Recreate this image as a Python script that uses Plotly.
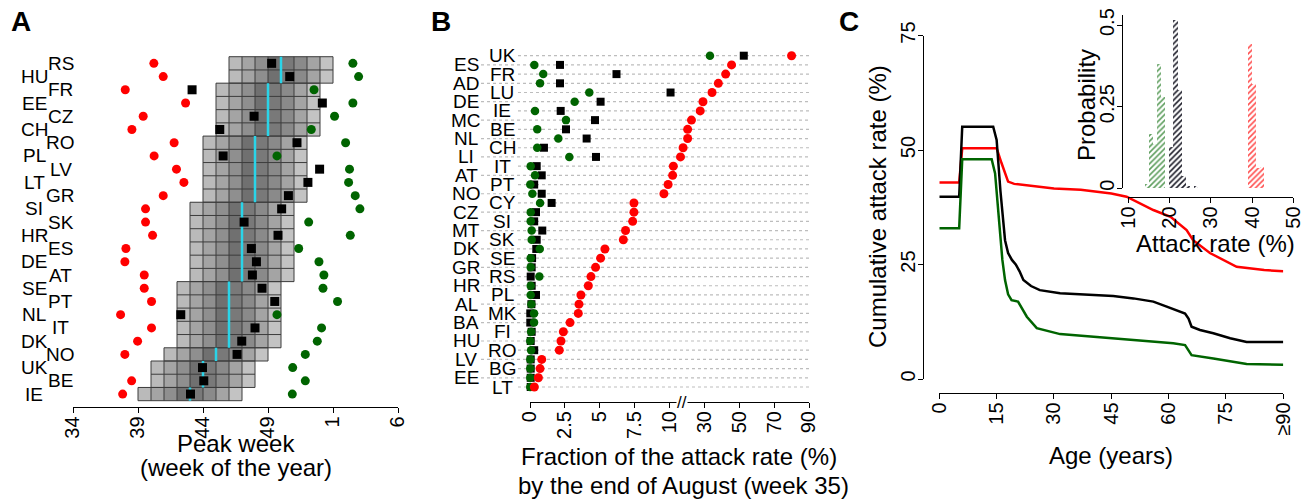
import plotly.graph_objects as go

PAGE_W, PAGE_H = 1313, 501
OFF = 8                      # default page body margin in the browser
W, H = PAGE_W - OFF, PAGE_H - OFF
FONT = "Liberation Sans, Arial, sans-serif"

def fx(p):
    return (p - OFF) / W

def fy(p):
    return 1 - (p - OFF) / H

# ---------------- Panel A data ----------------
countries_A = ["RS", "HU", "FR", "EE", "CZ", "CH", "RO", "PL", "LV", "LT", "GR", "SI", "SK",
               "HR", "ES", "DE", "AT", "SE", "PT", "NL", "IT", "DK", "NO", "UK", "BE", "IE"]
median_week_A = [50, 50, 49, 49, 49, 49, 48, 48, 48, 48, 48, 47, 47, 47, 47, 47, 47,
                 46, 46, 46, 46, 46, 45, 44, 44, 43]
red_A = [40.22, 40.94, 38.02, 42.66, 39.40, 38.53, 41.78, 40.24, 41.96, 42.53, 40.94, 39.58, 39.58,
         40.12, 38.07, 37.99, 39.48, 39.48, 40.04, 37.66, 40.04, 38.97, 37.99, None, 38.51, 37.82]
black_A = [49.28, 50.67, 43.16, 53.18, 47.93, 45.29, 51.23, 45.55, 52.97, 52.07, 50.57, 50.05, 47.16,
           49.77, 47.72, 48.11, 47.80, 48.54, 49.52, 42.29, 48.00, 46.98, 46.62, 43.96, 44.06, 43.04]
green_A = [55.53, 55.97, 52.54, 55.53, 54.12, 52.33, 54.97, 49.69, 55.27, 55.20, 55.71, 56.07, 52.13,
           55.33, 51.36, 52.92, 53.30, 53.23, 54.35, 49.69, 53.12, 52.79, 51.87, 50.90, 51.87, 50.87]
peak_prob = [0.05, 0.10, 0.15, 0.22, 0.20, 0.16, 0.10, 0.03]   # per week offset within 8-week window
week_ticks = [34, 39, 44, 49, 54, 59]
week_tick_labels = ["34", "39", "44", "49", "1", "6"]

# ---------------- Panel B data ----------------
countries_B = ["UK", "ES", "FR", "AD", "LU", "DE", "IE", "MC", "BE", "NL", "CH", "LI", "IT", "AT",
               "PT", "NO", "CY", "CZ", "SI", "MT", "SK", "DK", "SE", "GR", "RS", "HR", "PL", "AL",
               "MK", "BA", "FI", "HU", "RO", "LV", "BG", "EE", "LT"]
green_B = [33.2, 0.31, 0.95, 0.72, 4.25, 3.2, 0.36, 2.58, 0.52, 2.03, 0.52, 2.82, 0.05, 0.36,
           0.02, 0.17, 0.72, 0.05, 0.05, 0.12, 0.12, 0.70, 0.05, 0.05, 0.67, 0.05, 0.05, 0.10,
           0.29, 0.29, 0.08, 0.02, 0.08, 0.02, 0.02, 0.02, 0.02]
black_B = [52.6, 2.15, 6.2, 2.15, 10.6, 5.06, 2.2, 4.66, 2.58, 4.06, 1.0, 4.73, 0.48, 0.84,
           0.30, 0.84, 1.55, 0.43, 0.30, 0.88, 0.48, 0.45, 0.15, 0.12, 0.05, 0.12, 0.43, 0.10,
           0.02, 0.02, 0.12, 0.05, 0.30, 0.05, 0.05, 0.05, 0.05]
red_B = [80, 45.6, 42.2, 38, 34.4, 29.2, 27.6, 22.6, 20.4, 20.4, 17.8, 16.3, 12.2, 11.8,
         9.9, 9.6, 7.45, 7.45, 7.36, 6.85, 6.69, 5.37, 5.06, 4.70, 4.37, 4.18, 3.65, 3.51,
         3.46, 2.87, 2.39, 2.22, 2.10, 0.84, 0.72, 0.60, 0.31]
frac_ticks = [0, 2.5, 5, 7.5, 10, 30, 50, 70, 90]
frac_tick_labels = ["0", "2.5", "5", "7.5", "10", "30", "50", "70", "90"]

# ---------------- Panel C data ----------------
age_black = [0, 5.2, 6, 14.1, 15, 16, 17.2, 18, 19, 20, 21, 22, 24, 26.3, 31.6, 45.5, 50.8, 56,
             59.5, 63, 64.3, 65.2, 66, 68.2, 71.7, 76.1, 80.4, 90]
ar_black = [39.8, 39.8, 55.1, 55.1, 52.2, 41, 30.3, 27.5, 26, 25, 23.5, 21.6, 20.3, 19.4, 18.7,
            18.1, 17.6, 16.9, 15.8, 14.7, 14.3, 13.2, 11.4, 10.7, 10.0, 8.9, 8.1, 8.1]
age_red = [0, 5.2, 6, 15, 16.3, 18, 19.6, 25, 30, 37, 45, 49, 56, 60.5, 64.7, 66.4, 70.8, 77.8, 85, 90]
ar_red = [42.9, 42.9, 50.4, 50.4, 47.1, 43.1, 42.6, 42.0, 41.6, 41.3, 40.5, 39.8, 36.9, 35.4,
          32.5, 30.3, 27.5, 24.5, 23.8, 23.5]
age_green = [0, 5.2, 6, 13.7, 14.6, 15.5, 16.5, 17.2, 18, 18.9, 20.6, 22.9, 25.5, 31.6, 45.5,
             61.2, 64.3, 66, 71.7, 80.4, 90]
ar_green = [32.9, 32.9, 48, 48, 44.9, 35, 26, 21.6, 18.5, 17.2, 16.9, 13.6, 11.1, 9.8, 8.9,
            7.8, 7.4, 5.2, 4.5, 3.3, 3.1]
age_ticks = [0, 15, 30, 45, 60, 75, 90]
age_tick_labels = ["0", "15", "30", "45", "60", "75", "\u226590"]
car_ticks = [0, 25, 50, 75]

# inset histograms (bin left edge, probability)
bins_green = [14, 15, 16, 17, 18]
prob_green = [0.013, 0.166, 0.136, 0.381, 0.279]
bins_black = [20, 21, 22, 23, 24, 26]
prob_black = [0.126, 0.515, 0.30, 0.036, 0.006, 0.005]
bins_red = [39, 40, 41, 42]
prob_red = [0.44, 0.32, 0.06, 0.065]
inset_x_ticks = [10, 20, 30, 40, 50]
inset_y_ticks = [0, 0.25, 0.5]
inset_y_labels = ["0", "0.25", "0.5"]

RED = "#ff0000"
GREEN = "#006400"
CYAN = "#2ad4e8"

fig = go.Figure()

# ================= Panel A =================
rows_A = list(range(len(countries_A)))
weeks = list(range(39, 54))
z = []
for r in rows_A:
    start = median_week_A[r] - 4
    rowz = []
    for w in weeks:
        k = w - start
        rowz.append(peak_prob[k] if 0 <= k < len(peak_prob) else None)
    z.append(rowz)
fig.add_trace(go.Heatmap(x=[w + 0.5 for w in weeks], y=rows_A, z=z,
                         colorscale=[[0, "#d0d0d0"], [1, "#707070"]], zmin=0, zmax=max(peak_prob),
                         showscale=False, hoverinfo="skip", xaxis="x", yaxis="y"))

blocks = []
r0 = 0
for r in range(1, len(rows_A) + 1):
    if r == len(rows_A) or median_week_A[r] != median_week_A[r0]:
        blocks.append((r0, r - 1, median_week_A[r0]))
        r0 = r
gx, gy, cx, cy = [], [], [], []
for (a, b, m) in blocks:
    s, e = m - 4, m + 4
    for r in range(a, b + 2):
        gx += [s, e, None]
        gy += [r - 0.5, r - 0.5, None]
    for w in range(s, e + 1):
        gx += [w, w, None]
        gy += [a - 0.5, b + 0.5, None]
    cx += [m, m, None]
    cy += [a - 0.5, b + 0.5, None]
fig.add_trace(go.Scatter(x=gx, y=gy, mode="lines", line=dict(color="#3c3c3c", width=1),
                         hoverinfo="skip", xaxis="x", yaxis="y"))
fig.add_trace(go.Scatter(x=cx, y=cy, mode="lines", line=dict(color=CYAN, width=2.5),
                         hoverinfo="skip", xaxis="x", yaxis="y"))
fig.add_trace(go.Scatter(x=red_A, y=rows_A, mode="markers", marker=dict(color=RED, size=9, symbol="circle"),
                         cliponaxis=False, xaxis="x", yaxis="y"))
fig.add_trace(go.Scatter(x=green_A, y=rows_A, mode="markers", marker=dict(color=GREEN, size=9, symbol="circle"),
                         cliponaxis=False, xaxis="x", yaxis="y"))
fig.add_trace(go.Scatter(x=black_A, y=rows_A, mode="markers", marker=dict(color="black", size=9, symbol="square"),
                         cliponaxis=False, xaxis="x", yaxis="y"))

# ================= Panel B =================
def brk(v):
    return v / 2.5 if v <= 10 else 4 + (v - 10) / 20.0

rows_B = list(range(len(countries_B)))
fig.add_trace(go.Scatter(x=[brk(v) for v in black_B], y=rows_B, mode="markers",
                         marker=dict(color="black", size=8, symbol="square"),
                         cliponaxis=False, xaxis="x2", yaxis="y2"))
fig.add_trace(go.Scatter(x=[brk(v) for v in green_B], y=rows_B, mode="markers",
                         marker=dict(color=GREEN, size=8.5, symbol="circle"),
                         cliponaxis=False, xaxis="x2", yaxis="y2"))
fig.add_trace(go.Scatter(x=[brk(v) for v in red_B], y=rows_B, mode="markers",
                         marker=dict(color=RED, size=9, symbol="circle"),
                         cliponaxis=False, xaxis="x2", yaxis="y2"))

# ================= Panel C =================
fig.add_trace(go.Scatter(x=age_red, y=ar_red, mode="lines", line=dict(color=RED, width=2.5),
                         xaxis="x3", yaxis="y3"))
fig.add_trace(go.Scatter(x=age_black, y=ar_black, mode="lines", line=dict(color="black", width=2.5),
                         xaxis="x3", yaxis="y3"))
fig.add_trace(go.Scatter(x=age_green, y=ar_green, mode="lines", line=dict(color=GREEN, width=2.5),
                         xaxis="x3", yaxis="y3"))

for bins, probs, col, fg in [(bins_green, prob_green, "#a9d3a0", "#5e9e5e"),
                             (bins_black, prob_black, "#55556a", "#1c1c28"),
                             (bins_red, prob_red, "#ff9a9a", "#ff5050")]:
    fig.add_trace(go.Bar(x=[b + 0.5 for b in bins], y=probs, width=1.0,
                         marker=dict(color=col, line=dict(width=0),
                                     pattern=dict(shape="/", fgcolor=fg, size=4, solidity=0.4)),
                         xaxis="x4", yaxis="y4"))

# ================= Layout =================
tickfont = dict(family=FONT, size=20, color="black")
common_x = dict(showgrid=False, zeroline=False, showline=True, linecolor="black", linewidth=1.2,
                ticks="outside", ticklen=5, tickwidth=1.2, tickcolor="black", tickangle=-90,
                tickfont=tickfont, automargin=False, ticklabelstandoff=-5)

yA_top, yA_bot = 50.1, 407.3
yB_top, yB_bot = 42.45, 402.0
yI_max = 0.53

fig.update_layout(
    template="none",
    width=W, height=H, margin=dict(l=0, r=0, t=0, b=0, pad=0, autoexpand=False),
    paper_bgcolor="white", plot_bgcolor="rgba(0,0,0,0)", showlegend=False,
    barmode="overlay", bargap=0,
    font=dict(family=FONT, color="black"),
    xaxis=dict(domain=[fx(73), fx(398)], range=[34, 59], tickmode="array",
               tickvals=week_ticks, ticktext=week_tick_labels, anchor="y", **common_x),
    yaxis=dict(domain=[fy(yA_bot), fy(yA_top)], range=[26, -1], visible=False, anchor="x", automargin=False),
    xaxis2=dict(domain=[fx(530), fx(809)], range=[0, 8], tickmode="array",
                tickvals=[brk(v) for v in frac_ticks], ticktext=frac_tick_labels, anchor="y2", **common_x),
    yaxis2=dict(domain=[fy(yB_bot), fy(yB_top)], range=[37.63, -1.44], visible=False, anchor="x2",
                automargin=False),
    xaxis3=dict(domain=[fx(939.3), fx(1283.3)], range=[0, 90], tickmode="array",
                tickvals=age_ticks, ticktext=age_tick_labels, anchor="free", position=fy(393.3), **common_x),
    yaxis3=dict(domain=[fy(379), fy(35.5)], range=[0, 75], tickmode="array", tickvals=car_ticks,
                anchor="free", position=fx(923.3), **common_x),
    xaxis4=dict(domain=[fx(1128.3), fx(1293.3)], range=[10, 50], tickmode="array",
                tickvals=inset_x_ticks, anchor="free", position=fy(197.3), **common_x),
    yaxis4=dict(domain=[fy(188.3), fy(188.3 - yI_max * 326.4)], range=[0, yI_max], tickmode="array",
                tickvals=inset_y_ticks, ticktext=inset_y_labels, anchor="free", position=fx(1121.7),
                **common_x),
)

ann = []
for i, c in enumerate(countries_A):
    ann.append(dict(x=fx(60.5 if i % 2 == 0 else 34.5), xref="paper", y=i, yref="y", text=c,
                    showarrow=False, xanchor="center", yanchor="middle",
                    font=dict(family=FONT, size=19, color="black")))
shapes = []
for i, c in enumerate(countries_B):
    ann.append(dict(x=fx(502 if i % 2 == 0 else 466), xref="paper", y=i, yref="y2", text=c,
                    showarrow=False, xanchor="center", yanchor="middle",
                    font=dict(family=FONT, size=19, color="black")))
    shapes.append(dict(type="line", xref="paper", yref="y2", x0=fx(518 if i % 2 == 0 else 481),
                       x1=fx(811), y0=i, y1=i, layer="below",
                       line=dict(color="#bdbdbd", width=1.2, dash="3px,3px")))

def text(x, y, s, size=24, angle=0, bold=False):
    t = "<b>%s</b>" % s if bold else s
    ann.append(dict(x=fx(x), y=fy(y), xref="paper", yref="paper", text=t, showarrow=False,
                    xanchor="center", yanchor="middle", textangle=angle,
                    font=dict(family=FONT, size=size, color="black")))

text(21, 21, "A", size=28, bold=True)
text(441, 21, "B", size=28, bold=True)
text(849, 22, "C", size=28, bold=True)
text(236, 443, "Peak week")
text(236, 467, "(week of the year)")
text(679, 456, "Fraction of the attack rate (%)")
text(683, 485, "by the end of August (week 35)")
text(1111, 455, "Age (years)")
text(877, 207, "Cumulative attack rate (%)", angle=-90)
text(1086, 105, "Probability", angle=-90)
text(1215, 244, "Attack rate (%)")

ann.append(dict(x=brk(10) + 0.35 * (brk(30) - brk(10)), xref="x2", y=fy(402), yref="paper", text="//",
                showarrow=False, xanchor="center", yanchor="middle", bgcolor="white", borderpad=0,
                font=dict(family=FONT, size=17, color="black")))

fig.update_layout(annotations=ann, shapes=shapes)
fig.write_html("out.html")
